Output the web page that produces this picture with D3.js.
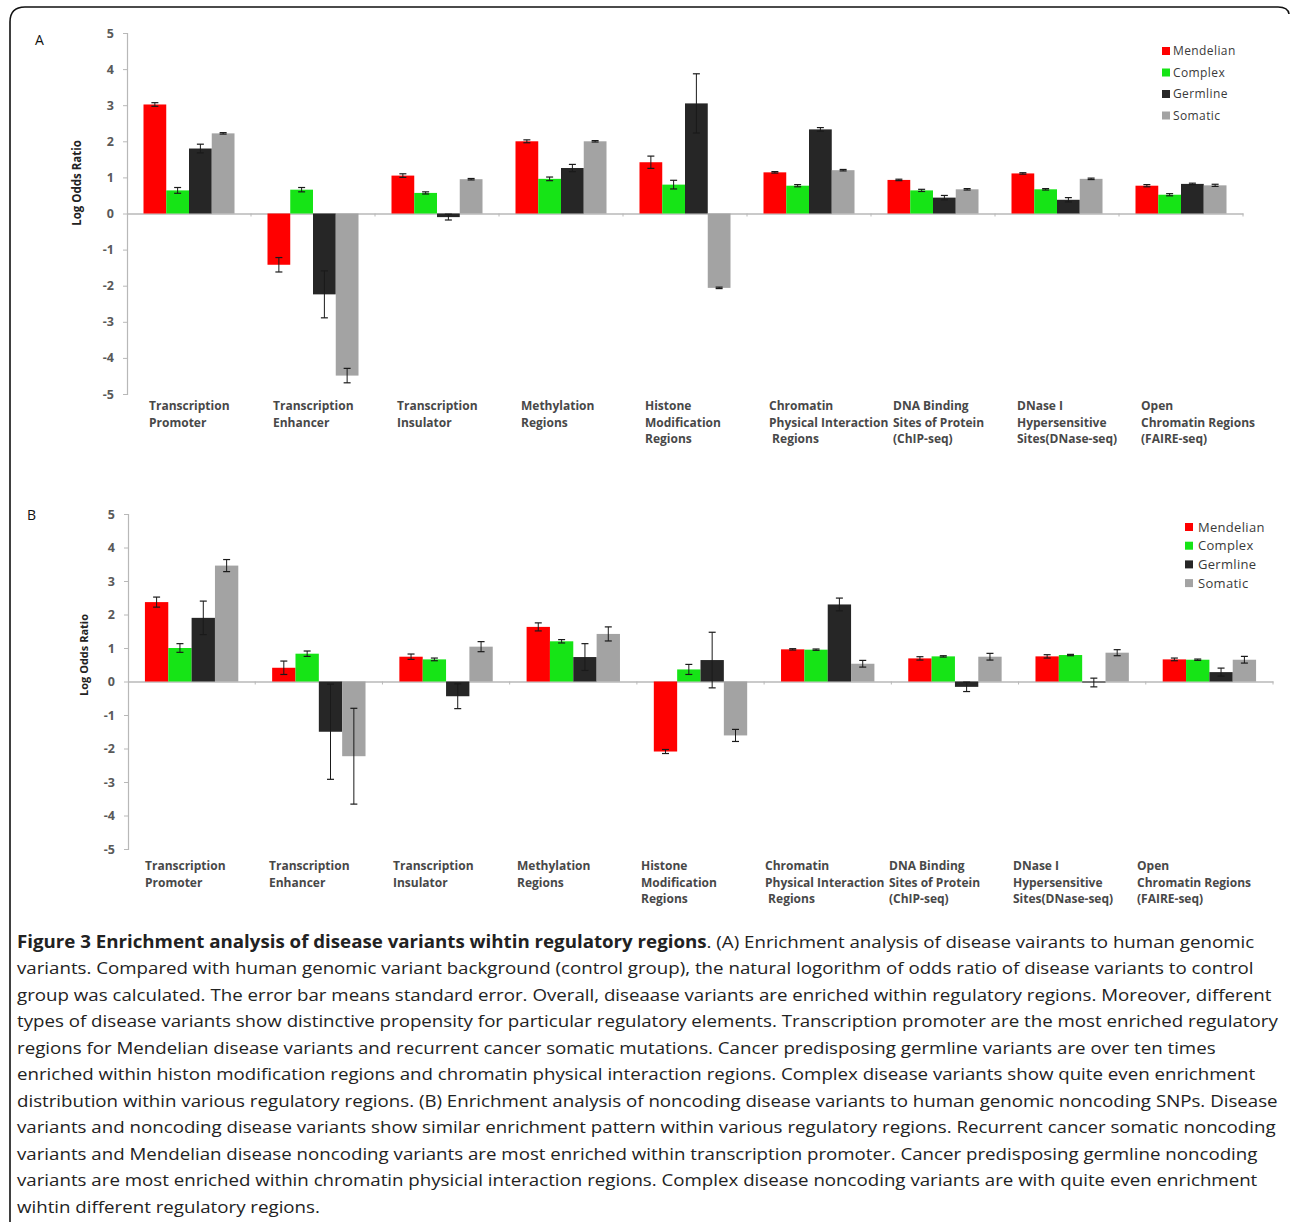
<!DOCTYPE html>
<html>
<head>
<meta charset="utf-8">
<script src="https://cdn.jsdelivr.net/npm/d3@7"></script>
<style>
  html, body { margin: 0; padding: 0; background: #fff; }
  svg { display: block; }
  text { font-family: "Open Sans", "DejaVu Sans", sans-serif; }
</style>
</head>
<body>
<svg id="fig" width="1290" height="1222"></svg>
<script>
// ---- data ----
const categories = [
  "Transcription Promoter", "Transcription Enhancer", "Transcription Insulator",
  "Methylation Regions", "Histone Modification Regions",
  "Chromatin Physical Interaction Regions", "DNA Binding Sites of Protein (ChIP-seq)",
  "DNase I Hypersensitive Sites(DNase-seq)", "Open Chromatin Regions (FAIRE-seq)"
];
const categoryLines = [
  ["Transcription", "Promoter"],
  ["Transcription", "Enhancer"],
  ["Transcription", "Insulator"],
  ["Methylation", "Regions"],
  ["Histone", "Modification", "Regions"],
  ["Chromatin", "Physical Interaction", " Regions"],
  ["DNA Binding", "Sites of Protein", "(ChIP-seq)"],
  ["DNase I", "Hypersensitive", "Sites(DNase-seq)"],
  ["Open", "Chromatin Regions", "(FAIRE-seq)"]
];
const series = ["Mendelian", "Complex", "Germline", "Somatic"];
const seriesColors = ["#ff0000", "#16e416", "#262626", "#a3a3a3"];
const yTicks = [5, 4, 3, 2, 1, 0, -1, -2, -3, -4, -5];

// Panel A: all disease variants vs. genomic variants (log odds ratio, standard error)
const mendelianA = [3.02, -1.42, 1.05, 2.00, 1.42, 1.14, 0.93, 1.11, 0.77];
const complexA   = [0.64, 0.66, 0.57, 0.96, 0.80, 0.77, 0.64, 0.67, 0.52];
const germlineA  = [1.80, -2.24, -0.10, 1.26, 3.05, 2.33, 0.44, 0.38, 0.82];
const somaticA   = [2.22, -4.49, 0.95, 2.00, -2.06, 1.20, 0.67, 0.96, 0.78];
const mendelianErrA = [0.05, 0.20, 0.05, 0.04, 0.17, 0.02, 0.02, 0.02, 0.03];
const complexErrA   = [0.08, 0.06, 0.03, 0.05, 0.12, 0.03, 0.03, 0.02, 0.03];
const germlineErrA  = [0.12, 0.65, 0.08, 0.10, 0.82, 0.05, 0.06, 0.06, 0.02];
const somaticErrA   = [0.02, 0.20, 0.02, 0.02, 0.02, 0.02, 0.02, 0.02, 0.03];

// Panel B: noncoding disease variants vs. genomic noncoding SNPs
const mendelianB = [2.37, 0.41, 0.74, 1.63, -2.09, 0.96, 0.69, 0.75, 0.66];
const complexB   = [1.00, 0.83, 0.66, 1.20, 0.36, 0.95, 0.75, 0.79, 0.65];
const germlineB  = [1.90, -1.50, -0.44, 0.73, 0.64, 2.30, -0.16, -0.03, 0.28];
const somaticB   = [3.46, -2.23, 1.04, 1.42, -1.61, 0.53, 0.74, 0.86, 0.65];
const mendelianErrB = [0.15, 0.20, 0.08, 0.12, 0.06, 0.02, 0.05, 0.05, 0.04];
const complexErrB   = [0.13, 0.08, 0.04, 0.05, 0.15, 0.02, 0.02, 0.02, 0.02];
const germlineErrB  = [0.50, 1.42, 0.37, 0.40, 0.83, 0.19, 0.14, 0.13, 0.12];
const somaticErrB   = [0.18, 1.43, 0.15, 0.21, 0.18, 0.10, 0.10, 0.09, 0.10];

const captionBold = "Figure 3 Enrichment analysis of disease variants wihtin regulatory regions";
const captionLines = [
  ". (A) Enrichment analysis of disease vairants to human genomic",
  "variants. Compared with human genomic variant background (control group), the natural logorithm of odds ratio of disease variants to control",
  "group was calculated. The error bar means standard error. Overall, diseaase variants are enriched within regulatory regions. Moreover, different",
  "types of disease variants show distinctive propensity for particular regulatory elements. Transcription promoter are the most enriched regulatory",
  "regions for Mendelian disease variants and recurrent cancer somatic mutations. Cancer predisposing germline variants are over ten times",
  "enriched within histon modification regions and chromatin physical interaction regions. Complex disease variants show quite even enrichment",
  "distribution within various regulatory regions. (B) Enrichment analysis of noncoding disease variants to human genomic noncoding SNPs. Disease",
  "variants and noncoding disease variants show similar enrichment pattern within various regulatory regions. Recurrent cancer somatic noncoding",
  "variants and Mendelian disease noncoding variants are most enriched within transcription promoter. Cancer predisposing germline noncoding",
  "variants are most enriched within chromatin physicial interaction regions. Complex disease noncoding variants are with quite even enrichment",
  "wihtin different regulatory regions."
];

// ---- drawing ----
const svg = d3.select("#fig");

// figure frame: rounded top-left corner, open at the bottom
svg.append("path")
  .attr("d", "M10,1222 L10,22 Q10,7 25,7 L1278,7 Q1288,7 1289,14")
  .attr("fill", "none").attr("stroke", "#111").attr("stroke-width", 1.6);

function drawPanel(opt) {
  const g = svg.append("g");
  const y = d3.scaleLinear().domain([-5, 5]).range([opt.bottom, opt.top]);
  const x = d3.scaleBand().domain(categories).range([opt.left, opt.right]).paddingInner(0).paddingOuter(0);
  const xs = d3.scaleBand().domain(series).range([0, x.bandwidth()]).paddingInner(0).paddingOuter(0.725);
  // category text sits on its own band grid beneath the plot
  const xl = d3.scaleBand().domain(categories).range(opt.labelRange);

  // y axis
  const yAxis = d3.axisLeft(y).tickValues(yTicks).tickSize(4).tickPadding(9).tickFormat(d => String(d));
  const ya = g.append("g").attr("transform", `translate(${opt.left},0)`).call(yAxis);
  ya.select(".domain").attr("stroke", "#b8b8b8").attr("stroke-width", 1.2);
  ya.selectAll(".tick line").attr("stroke", "#b8b8b8");
  ya.selectAll(".tick text").attr("fill", "#595959").attr("font-size", opt.tickSize)
    .attr("font-weight", "bold").style("font-family", "Open Sans, sans-serif");

  // zero baseline with category separators
  const xa = d3.axisBottom(x).tickSize(0).tickFormat("");
  const xg = g.append("g").attr("transform", `translate(0,${y(0)})`).call(xa);
  xg.select(".domain").attr("stroke", "#b8b8b8").attr("stroke-width", 1.4);
  xg.selectAll(".tick").remove();
  const seps = categories.slice(1).map(c => x(c)).concat([opt.right]);
  g.selectAll(".sep").data(seps).join("line")
    .attr("x1", d => d).attr("x2", d => d)
    .attr("y1", y(0)).attr("y2", y(0) + 3)
    .attr("stroke", "#b8b8b8");

  // bars
  const rows = [];
  categories.forEach((c, i) => {
    series.forEach((s, j) => {
      rows.push({ cat: c, s: s, j: j, v: opt.values[j][i], e: opt.errors[j][i] });
    });
  });
  g.selectAll(".bar").data(rows).join("rect")
    .attr("x", d => x(d.cat) + xs(d.s))
    .attr("width", xs.bandwidth())
    .attr("y", d => y(Math.max(0, d.v)))
    .attr("height", d => Math.abs(y(d.v) - y(0)))
    .attr("fill", d => seriesColors[d.j]);

  // error bars
  const eb = g.selectAll(".err").data(rows).join("g")
    .attr("transform", d => `translate(${x(d.cat) + xs(d.s) + xs.bandwidth() / 2},0)`);
  eb.append("line").attr("x1", 0).attr("x2", 0)
    .attr("y1", d => y(d.v + d.e)).attr("y2", d => y(d.v - d.e))
    .attr("stroke", "#1a1a1a").attr("stroke-width", 1);
  eb.selectAll(".cap").data(d => [d.v + d.e, d.v - d.e]).join("line")
    .attr("x1", -3.5).attr("x2", 3.5)
    .attr("y1", d => y(d)).attr("y2", d => y(d))
    .attr("stroke", "#1a1a1a").attr("stroke-width", 1.2);

  // category labels
  const lab = g.selectAll(".cat").data(categories).join("text")
    .attr("x", d => xl(d))
    .attr("y", opt.labelY)
    .attr("fill", "#484848").attr("font-size", opt.labelSize).attr("font-weight", "bold")
    .style("white-space", "pre");
  lab.selectAll("tspan").data((d, i) => categoryLines[i]).join("tspan")
    .attr("x", function () { return d3.select(this.parentNode).attr("x"); })
    .attr("dy", (d, k) => k === 0 ? 0 : opt.lineH)
    .text(d => d);

  // y title
  g.append("text")
    .attr("transform", `translate(${opt.titleX},${opt.titleY}) rotate(-90)`)
    .attr("text-anchor", "middle").attr("font-size", opt.titleSize).attr("font-weight", "bold")
    .attr("fill", "#222")
    .text("Log Odds Ratio");

  // panel letter
  g.append("text").attr("x", opt.letterX).attr("y", opt.letterY)
    .attr("font-size", 14).attr("fill", "#111").text(opt.letter);

  // legend
  const lg = g.append("g").attr("transform", `translate(${opt.legX},${opt.legY})`);
  const li = lg.selectAll("g").data(series).join("g")
    .attr("transform", (d, i) => `translate(0,${i * opt.legStep})`);
  li.append("rect").attr("x", 0).attr("y", -4).attr("width", 8).attr("height", 8)
    .attr("fill", (d, i) => seriesColors[i]);
  li.append("text").attr("x", opt.legTextDx).attr("y", 0).attr("dy", "0.35em")
    .attr("font-size", opt.legSize).attr("fill", "#3a3a3a")
    .attr("letter-spacing", opt.legSpacing)
    .text(d => d);
}

drawPanel({
  letter: "A", letterX: 35, letterY: 45,
  top: 33, bottom: 394, left: 127, right: 1243, labelRange: [149, 1265],
  values: [mendelianA, complexA, germlineA, somaticA],
  errors: [mendelianErrA, complexErrA, germlineErrA, somaticErrA],
  tickSize: 12.5, labelSize: 12, labelY: 410, lineH: 16.5,
  titleX: 81, titleY: 183, titleSize: 11.5,
  legX: 1162, legY: 51, legStep: 21.5, legTextDx: 11, legSize: 12, legSpacing: 0.4
});

drawPanel({
  letter: "B", letterX: 27, letterY: 520,
  top: 514, bottom: 849, left: 128, right: 1273, labelRange: [145, 1261],
  values: [mendelianB, complexB, germlineB, somaticB],
  errors: [mendelianErrB, complexErrB, germlineErrB, somaticErrB],
  tickSize: 12.5, labelSize: 12, labelY: 870, lineH: 16.5,
  titleX: 88, titleY: 655, titleSize: 11,
  legX: 1185, legY: 527, legStep: 18.7, legTextDx: 13, legSize: 13, legSpacing: 0.3
});

// caption, ragged right; glyphs are narrowed horizontally so the widest line fits the column
const capX = 17, capY0 = 948, capStep = 26.5, colWidth = 1262, capSize = 17;
const cap = svg.append("g");
const capInner = cap.append("g");
const t0 = capInner.append("text").attr("x", 0).attr("y", capY0).attr("font-size", capSize).attr("fill", "#222");
t0.append("tspan").attr("font-weight", "bold").text(captionBold);
t0.append("tspan").text(captionLines[0]);
captionLines.slice(1).forEach((line, i) => {
  capInner.append("text").attr("x", 0).attr("y", capY0 + (i + 1) * capStep)
    .attr("font-size", capSize).attr("fill", "#222").text(line);
});
let widest = 0;
capInner.selectAll("text").each(function () { widest = Math.max(widest, this.getComputedTextLength()); });
capInner.attr("transform", `translate(${capX},0) scale(${colWidth / widest},1)`);
</script>
</body>
</html>
